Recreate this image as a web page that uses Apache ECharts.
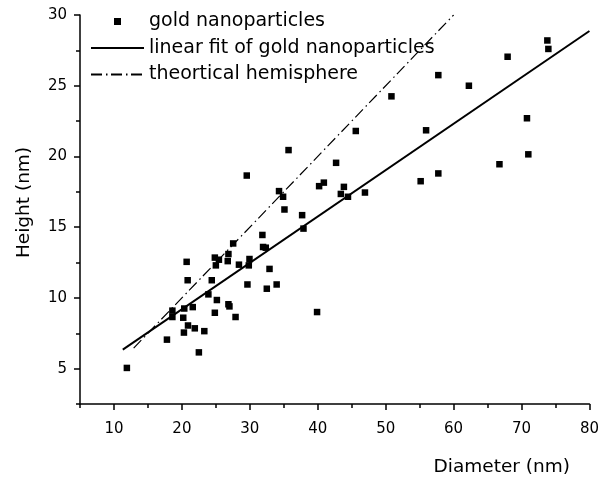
<!DOCTYPE html>
<html>
<head>
<meta charset="utf-8">
<title>Height vs diameter of gold nanoparticles</title>
<script src="https://cdn.jsdelivr.net/npm/echarts@6/dist/echarts.min.js"></script>
<style>
  html, body { margin: 0; padding: 0; background: #fff; }
  #chart { width: 602px; height: 482px; }
</style>
</head>
<body>
<div id="chart"></div>
<script>
// Measured particles: diameter (nm) and height (nm)
const diameters = [
  11.9, 17.8, 20.3, 20.9, 21.9, 23.3, 22.5, 18.6, 18.6, 20.2,
  20.35, 21.6, 20.7, 20.85, 23.9, 24.4, 24.85, 25.15, 24.85, 25.45,
  25.0, 26.85, 26.75, 27.55, 26.85, 27.0, 27.9, 28.4, 29.95, 29.85,
  29.65, 31.95, 32.35, 32.5, 32.9, 33.95, 39.9, 29.55, 35.7, 34.3,
  34.9, 35.1, 31.85, 73.8, 73.95, 67.95, 57.75, 62.25, 50.85, 45.6,
  55.95, 70.8, 71.0, 66.75, 42.7, 40.2, 40.9, 43.85, 43.4, 44.45,
  46.95, 55.15, 57.75, 37.7, 37.9
];
const heights = [
  5.05, 7.05, 7.55, 8.05, 7.85, 7.65, 6.15, 9.1, 8.65, 8.6,
  9.25, 9.35, 12.55, 11.25, 10.25, 11.25, 8.95, 9.85, 12.85, 12.7,
  12.3, 13.1, 12.6, 13.85, 9.55, 9.4, 8.65, 12.35, 12.75, 12.3,
  10.95, 13.6, 13.55, 10.65, 12.05, 10.95, 9.0, 18.65, 20.45, 17.55,
  17.15, 16.25, 14.45, 28.2, 27.6, 27.05, 25.75, 25.0, 24.25, 21.8,
  21.85, 22.7, 20.15, 19.45, 19.55, 17.9, 18.15, 17.85, 17.35, 17.15,
  17.45, 18.25, 18.8, 15.85, 14.9
];

// End points of the least-squares line and of the hemisphere model (h = d / 2)
const fitLine = [[11.3, 6.34], [80, 28.87]];
const hemisphereLine = [[12.9, 6.45], [60, 30]];

// Axis ticks
const xTicks = [10, 20, 30, 40, 50, 60, 70, 80];
const xMinorTicks = [5, 15, 25, 35, 45, 55, 65, 75];
const yTicks = [5, 10, 15, 20, 25, 30];
const yMinorTicks = [2.5, 7.5, 12.5, 17.5, 22.5, 27.5];

const seriesNames = ['gold nanoparticles', 'linear fit of gold nanoparticles', 'theortical hemisphere'];

const FONT = 'DejaVu Sans';
const INK = '#000';

const points = diameters.map((d, i) => [d, heights[i]]);

const axisLineStyle = { color: INK, width: 1.5 };
// Line entries in the legend show only the stroke, no marker
const hiddenMarker = { opacity: 0, borderWidth: 0 };

const chart = echarts.init(document.getElementById('chart'), null, { renderer: 'canvas' });
chart.setOption({
  animation: false,
  backgroundColor: '#fff',
  grid: { left: 80, right: 11, top: 15, bottom: 76 },
  legend: {
    orient: 'vertical',
    left: 85,
    top: 7,
    itemWidth: 53,
    itemHeight: 7,
    itemGap: 7.5,
    selectedMode: false,
    textStyle: { fontFamily: FONT, fontSize: 19, color: INK },
    data: [
      { name: seriesNames[0], icon: 'path://M0,0H1V1H0Z', itemStyle: { color: INK, opacity: 1 } },
      { name: seriesNames[1], itemStyle: hiddenMarker },
      { name: seriesNames[2], itemStyle: hiddenMarker }
    ]
  },
  xAxis: [
    {
      type: 'value', min: 5, max: 80, position: 'bottom',
      name: 'Diameter (nm)', nameLocation: 'middle', nameGap: 54,
      nameTextStyle: { fontFamily: FONT, fontSize: 18.5, color: INK, padding: [0, 0, 0, 334] },
      axisLine: { show: true, onZero: false, lineStyle: axisLineStyle },
      axisTick: { show: true, customValues: xTicks, length: 6, lineStyle: axisLineStyle },
      axisLabel: { customValues: xTicks, margin: 18, fontFamily: FONT, fontSize: 15, color: INK },
      splitLine: { show: false }
    },
    {
      type: 'value', min: 5, max: 80, position: 'bottom',
      axisLine: { show: false, onZero: false },
      axisTick: { show: true, customValues: xMinorTicks, length: 4, lineStyle: axisLineStyle },
      axisLabel: { show: false },
      splitLine: { show: false }
    }
  ],
  yAxis: [
    {
      type: 'value', min: 2.5, max: 30, position: 'left',
      name: 'Height (nm)', nameLocation: 'middle', nameGap: 46, nameRotate: 90,
      nameTextStyle: { fontFamily: FONT, fontSize: 18.5, color: INK, padding: [0, 0, 0, 14] },
      axisLine: { show: true, onZero: false, lineStyle: axisLineStyle },
      axisTick: { show: true, customValues: yTicks, length: 6, lineStyle: axisLineStyle },
      axisLabel: { customValues: yTicks, margin: 13, fontFamily: FONT, fontSize: 15, color: INK },
      splitLine: { show: false }
    },
    {
      type: 'value', min: 2.5, max: 30, position: 'left',
      axisLine: { show: false, onZero: false },
      axisTick: { show: true, customValues: yMinorTicks, length: 4, lineStyle: axisLineStyle },
      axisLabel: { show: false },
      splitLine: { show: false }
    }
  ],
  series: [
    {
      name: seriesNames[0],
      type: 'scatter',
      symbol: 'rect',
      symbolSize: 6.5,
      itemStyle: { color: INK, opacity: 1 },
      data: points
    },
    {
      name: seriesNames[1],
      type: 'line',
      symbol: 'none',
      itemStyle: { color: INK },
      lineStyle: { color: INK, width: 2 },
      data: fitLine
    },
    {
      name: seriesNames[2],
      type: 'line',
      symbol: 'none',
      itemStyle: { color: INK },
      lineStyle: { color: INK, width: 1.2, type: [11, 4, 1.5, 3.5] },
      data: hemisphereLine
    }
  ]
});
</script>
</body>
</html>
